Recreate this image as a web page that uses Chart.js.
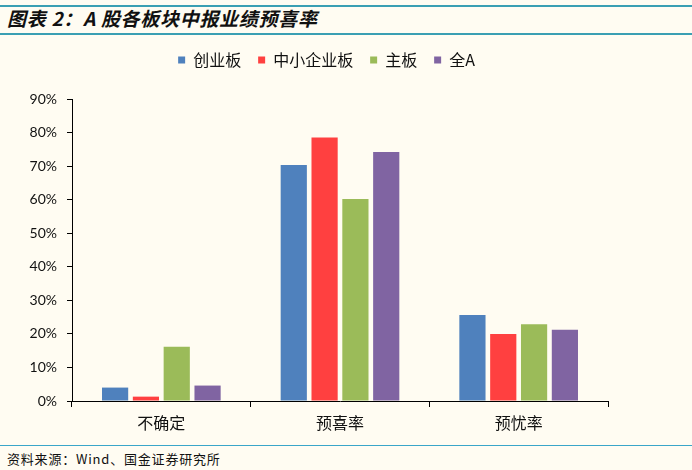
<!DOCTYPE html>
<html>
<head>
<meta charset="utf-8">
<script src="https://cdn.jsdelivr.net/npm/chart.js@4"></script>
<style>
html,body{margin:0;padding:0;background:#FFFCF2;}
#wrap{position:relative;width:692px;height:470px;background:#FFFCF2;overflow:hidden;}
.line{position:absolute;left:0;width:692px;height:2px;background:#3A9FB3;}
#title{position:absolute;left:7px;top:5px;font-family:"Noto Sans CJK SC";font-weight:bold;font-style:italic;font-size:19px;line-height:26px;letter-spacing:0.7px;color:#111;white-space:nowrap;}
#foot{position:absolute;left:7px;top:450px;font-family:"Noto Sans CJK SC";font-size:13px;line-height:18px;letter-spacing:0.8px;color:#111;white-space:nowrap;}
#box{position:absolute;left:0;top:44px;width:692px;height:400px;}
#cv{display:block;}
</style>
</head>
<body>
<div id="wrap">
<div class="line" style="top:5px"></div>
<div id="title">图表 2：A 股各板块中报业绩预喜率</div>
<div class="line" style="top:33px"></div>
<div id="box"><canvas id="cv" width="692" height="400"></canvas></div>
<div class="line" style="top:445px;height:1px;background:#3AA6C9"></div>
<div id="foot">资料来源：Wind、国金证券研究所</div>
</div>
<script>
const categories = ["不确定", "预喜率", "预忧率"];
const seriesNames = ["创业板", "中小企业板", "主板", "全A"];
const chuangye = [4.0, 70.3, 25.6];
const zhongxiao = [1.3, 78.5, 20.0];
const zhuban = [16.2, 60.2, 22.9];
const quanA = [4.6, 74.2, 21.2];
const yTicks = [0, 10, 20, 30, 40, 50, 60, 70, 80, 90];
const colors = ["#4F81BD", "#FF4040", "#9BBB59", "#8064A2"];

const seriesValues = [chuangye, zhongxiao, zhuban, quanA];
const legendPlace = {
  id: 'legendPlace',
  beforeInit(chart) {
    const orig = chart.legend.fit;
    chart.legend.fit = function () {
      orig.bind(chart.legend)();
      this.height = 55;
    };
  },
  afterLayout(chart) {
    chart.legend.left = 45;
    chart.legend.top = -9;
  }
};

new Chart(document.getElementById('cv'), {
  type: 'bar',
  data: {
    labels: categories,
    datasets: seriesNames.map((n, i) => ({
      label: n,
      data: seriesValues[i],
      backgroundColor: colors[i],
      borderWidth: 0,
      categoryPercentage: 0.69,
      barPercentage: 0.85
    }))
  },
  plugins: [legendPlace],
  options: {
    responsive: false,
    animation: false,
    devicePixelRatio: 1,
    layout: { padding: { left: 0, right: 84, top: 0, bottom: 13 } },
    plugins: {
      tooltip: { enabled: false },
      legend: {
        position: 'top',
        labels: {
          boxWidth: 7,
          boxHeight: 7,
          padding: 17,
          color: '#111',
          font: { family: '"Noto Sans CJK SC"', size: 16 }
        }
      }
    },
    scales: {
      x: {
        grid: { display: true, drawOnChartArea: false, drawTicks: true, tickLength: 6, color: '#000', offset: true },
        border: { display: true, color: '#000', width: 1 },
        ticks: { color: '#111', font: { family: '"Noto Sans CJK SC"', size: 16 }, padding: 6 },
        afterFit(s) { s.height = 30; }
      },
      y: {
        min: 0, max: 90,
        afterBuildTicks(s) { s.ticks = yTicks.map(v => ({ value: v })); },
        grid: { display: true, drawOnChartArea: false, drawTicks: true, tickLength: 5, color: '#000' },
        border: { display: true, color: '#000', width: 1 },
        ticks: { color: '#111', font: { family: 'Lato', size: 14 }, padding: 10, callback: v => v + '%' },
        afterFit(s) { s.width = 72; }
      }
    }
  }
});
</script>
</body>
</html>
